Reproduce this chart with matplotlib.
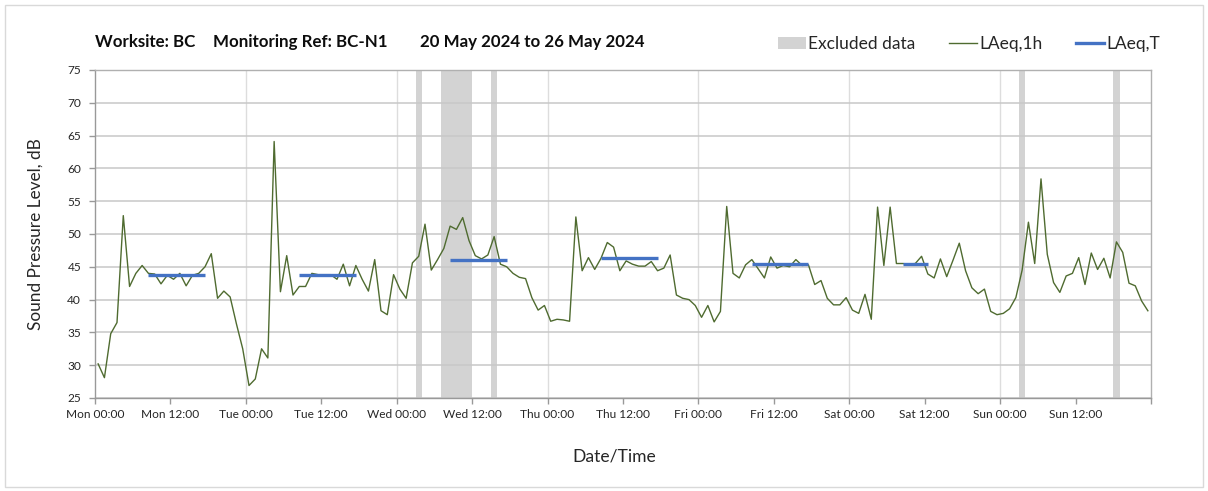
import matplotlib
matplotlib.use("Agg")
import matplotlib.pyplot as plt
import numpy as np
from matplotlib.patches import Rectangle, Patch
from matplotlib.lines import Line2D

plt.rcParams['font.family'] = ['Lato', 'DejaVu Sans']

# ---------------- data ----------------
title_parts = ["Worksite: BC", "Monitoring Ref: BC-N1", "20 May 2024 to 26 May 2024"]

# hourly LAeq,1h values (dB), one per hour, Mon 00:00 .. Sun 23:00
laeq_1h_mon = [30.2, 28.1, 34.8, 36.5, 52.8, 42.0, 44.0, 45.2, 44.0, 43.9, 42.4, 43.7,
               43.1, 44.0, 42.1, 43.7, 44.0, 45.0, 47.0, 40.2, 41.3, 40.4, 36.3, 32.5]
laeq_1h_tue = [26.9, 27.9, 32.5, 31.1, 64.1, 41.2, 46.7, 40.7, 42.0, 42.0, 44.0, 43.8,
               43.8, 43.8, 43.1, 45.4, 42.1, 45.2, 43.1, 41.3, 46.1, 38.3, 37.7, 43.8]
laeq_1h_wed = [41.6, 40.2, 45.6, 46.6, 51.5, 44.5, 46.1, 47.8, 51.2, 50.7, 52.5, 49.0,
               46.7, 46.2, 46.8, 49.6, 45.4, 45.0, 44.0, 43.4, 43.2, 40.3, 38.4, 39.1]
laeq_1h_thu = [36.7, 37.0, 36.9, 36.7, 52.6, 44.4, 46.4, 44.6, 46.3, 48.7, 48.0, 44.4,
               45.9, 45.4, 45.1, 45.1, 45.8, 44.4, 44.8, 46.8, 40.7, 40.2, 40.0, 39.1]
laeq_1h_fri = [37.3, 39.1, 36.6, 38.2, 54.2, 44.0, 43.3, 45.3, 46.1, 44.7, 43.3, 46.5,
               44.8, 45.2, 45.0, 46.1, 45.2, 45.3, 42.3, 42.9, 40.2, 39.2, 39.2, 40.3]
laeq_1h_sat = [38.4, 37.9, 40.8, 37.0, 54.1, 45.2, 54.1, 45.5, 45.5, 45.4, 45.5, 46.6,
               43.9, 43.3, 46.2, 43.5, 46.0, 48.6, 44.4, 41.8, 40.9, 41.6, 38.2, 37.7]
laeq_1h_sun = [37.9, 38.6, 40.3, 44.5, 51.8, 45.5, 58.4, 46.9, 42.6, 41.1, 43.6, 44.0,
               46.4, 42.3, 47.1, 44.6, 46.3, 43.3, 48.8, 47.2, 42.5, 42.1, 39.8, 38.3]
laeq_1h = (laeq_1h_mon + laeq_1h_tue + laeq_1h_wed + laeq_1h_thu +
           laeq_1h_fri + laeq_1h_sat + laeq_1h_sun)

# LAeq,T over working periods (start hour, end hour from Mon 00:00)
laeq_t_start = [8.5, 32.5, 56.5, 80.5, 104.5, 128.5]
laeq_t_end = [17.5, 41.5, 65.5, 89.5, 113.5, 132.5]
laeq_t_value = [43.7, 43.7, 46.1, 46.3, 45.4, 45.4]

# excluded data periods (hours from Mon 00:00)
excl_start = [51, 55, 63, 147, 162]
excl_end = [52, 60, 64, 148, 163]

tick_labels = ["Mon 00:00", "Mon 12:00", "Tue 00:00", "Tue 12:00", "Wed 00:00",
               "Wed 12:00", "Thu 00:00", "Thu 12:00", "Fri 00:00", "Fri 12:00",
               "Sat 00:00", "Sat 12:00", "Sun 00:00", "Sun 12:00"]

# ---------------- figure ----------------
W, H = 1208, 491
fig = plt.figure(figsize=(W / 100, H / 100), dpi=100)
fig.patch.set_facecolor('white')

# outer chart border
fig.add_artist(Rectangle((5 / W, 4 / H), 1198 / W, 482 / H, transform=fig.transFigure,
                         fill=False, edgecolor='#d9d9d9', linewidth=1.0))

ax = fig.add_axes([95 / W, 1 - 398 / H, (1151 - 95) / W, (398 - 70) / H])

hours = np.arange(len(laeq_1h)) + 0.5
n_hours = len(laeq_1h)

green = '#4f6b30'
blue = '#4472c4'
grey_band = '#d3d3d3'

for s, e in zip(excl_start, excl_end):
    ax.axvspan(s, e, color=grey_band, lw=0, zorder=0.2)

for d in range(24, n_hours, 24):
    ax.axvline(d, color='#dddddd', lw=1.0, zorder=0.3)

ax.plot(hours, laeq_1h, color=green, lw=1.0, zorder=3)
ax.hlines(laeq_t_value, laeq_t_start, laeq_t_end, color=blue, lw=2.4, zorder=4,
          capstyle='butt')

ax.set_xlim(0, n_hours)
ax.set_ylim(25, 75)
ax.set_yticks(np.arange(25, 76, 5))
xt = np.arange(0, n_hours + 1, 12)
ax.set_xticks(xt)
ax.set_xticklabels(tick_labels + [""] * (len(xt) - len(tick_labels)))

ax.set_axisbelow(True)
ax.yaxis.grid(True, color='#c8c8c8', lw=1.1)
ax.xaxis.grid(False)

for sp in ax.spines.values():
    sp.set_color('#b0b0b0')
    sp.set_linewidth(1.0)
ax.spines['left'].set_color('#999999')
ax.spines['bottom'].set_color('#999999')

ax.tick_params(axis='x', length=4, width=1, color='#999999', labelsize=8.6,
               labelcolor='#262626', pad=4)
ax.tick_params(axis='y', length=4, width=1, color='#999999', labelsize=8.6,
               labelcolor='#262626', pad=6)

# texts
for xpos, part in zip([95, 213, 420], title_parts):
    fig.text(xpos / W, 1 - 42 / H, part, fontsize=12.2, fontweight='bold',
             color='#0d0d0d', ha='left', va='center')
fig.text(35.5 / W, 1 - 234 / H, "Sound Pressure Level, dB", rotation=90, fontsize=12.4,
         color='#262626', ha='center', va='center')
fig.text(614 / W, 1 - 457 / H, "Date/Time", fontsize=12.6, color='#262626',
         ha='center', va='center')

handles = [Patch(facecolor=grey_band, edgecolor='none'),
           Line2D([], [], color=green, lw=1.0),
           Line2D([], [], color=blue, lw=2.4)]
fig.legend(handles, ["Excluded data", "LAeq,1h", "LAeq,T"], loc='center right',
           bbox_to_anchor=(1160 / W, 1 - 44 / H), ncol=3, frameon=False,
           fontsize=12.5, handlelength=1.6, handletextpad=0.12, columnspacing=1.95,
           borderaxespad=0, borderpad=0, labelcolor='#262626')

fig.savefig("out.png", dpi=100, facecolor='white')
